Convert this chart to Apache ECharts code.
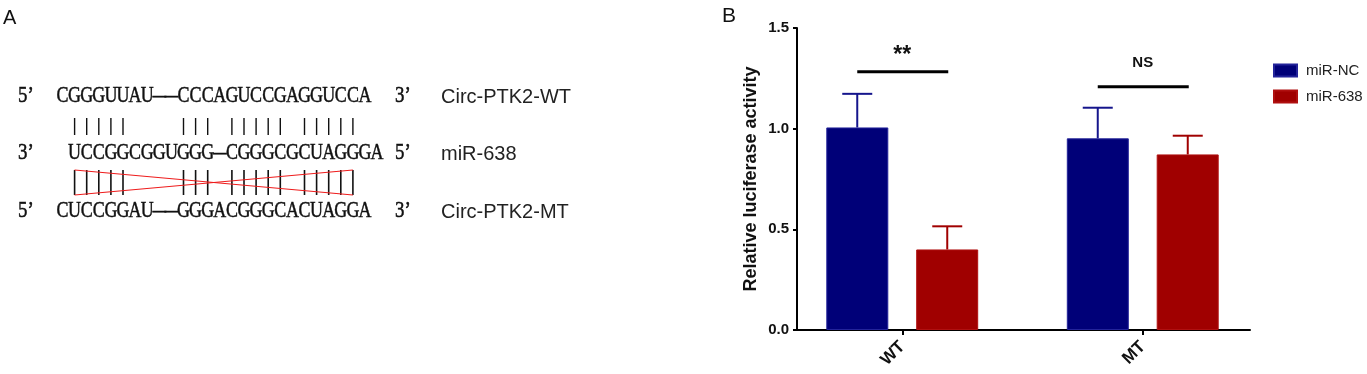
<!DOCTYPE html>
<html>
<head>
<meta charset="utf-8">
<script src="https://cdn.jsdelivr.net/npm/echarts@6/dist/echarts.min.js"></script>
<style>
html,body{margin:0;padding:0;background:#fff}
#main{width:1367px;height:374px}
</style>
</head>
<body>
<div id="main"></div>
<script>
// panel A - sequences
var seqWT = "CGGGUUAU--CCCAGUCCGAGGUCCA";
var seqMiR = "UCCGGCGGUGGG-CGGGCGCUAGGGA";
var seqMT = "CUCCGGAU--GGGACGGGCACUAGGA";
var rowNames = ["Circ-PTK2-WT", "miR-638", "Circ-PTK2-MT"];
var rowEnds = [["5’", "3’"], ["3’", "5’"], ["5’", "3’"]];
var pairIdx = [1, 2, 3, 4, 5, 10, 11, 12, 14, 15, 16, 17, 18, 20, 21, 22, 23, 24];

// panel B - luciferase
var groups = ["WT", "MT"];
var seriesNames = ["miR-NC", "miR-638"];
var ncMean = [1.006, 0.952];
var ncErr = [0.167, 0.152];
var mirMean = [0.400, 0.872];
var mirErr = [0.115, 0.093];
var sigLine = [1.283, 1.208];
var sigLabelAt = [1.361, 1.326];
var sigText = ["**", "NS"];

var sans = "Liberation Sans";
var serif = "Liberation Serif";
var blue = "#000078", red = "#a00000";

var chart = echarts.init(document.getElementById("main"));

// build panel A as graphic elements
var gfx = [];
function txt(x, y, s, font, align, sx, color, sw) {
    return {
        type: "text", x: x, y: y, scaleX: sx || 1, silent: true,
        style: {
            text: s, font: font, fill: color || "#111",
            stroke: sw ? (color || "#111") : null, lineWidth: sw || 0,
            align: align, textAlign: align,
            verticalAlign: "middle", textVerticalAlign: "middle"
        }
    };
}
function cx(i) { return 62.5 + 12.1 * i; }
var seqs = [seqWT, seqMiR, seqMT];
var rowOff = [0, 1, 0];
var rowY = [95.5, 152.5, 210.5];
var seqFont = "23px '" + serif + "'";
seqs.forEach(function (s, r) {
    for (var i = 0; i < s.length; i++) {
        var d = s[i] === "-";
        gfx.push(txt(cx(i + rowOff[r]), rowY[r], d ? "–" : s[i], seqFont, "center", d ? 1.15 : 0.78, "#111", 0.5));
    }
    gfx.push(txt(18, rowY[r], rowEnds[r][0], seqFont, "left", 0.82, "#111", 0.5));
    gfx.push(txt(395, rowY[r], rowEnds[r][1], seqFont, "left", 0.82, "#111", 0.5));
    gfx.push(txt(441, rowY[r] + 1.5, rowNames[r], "20px '" + sans + "'", "left", 1, "#222"));
});
pairIdx.forEach(function (i) {
    gfx.push({type: "line", silent: true, shape: {x1: cx(i), y1: 118, x2: cx(i), y2: 135}, style: {stroke: "#111", lineWidth: 1.4}});
    gfx.push({type: "line", silent: true, shape: {x1: cx(i), y1: 170, x2: cx(i), y2: 195}, style: {stroke: "#111", lineWidth: 1.6}});
});
var xa = cx(pairIdx[0]), xb = cx(pairIdx[pairIdx.length - 1]);
gfx.push({type: "line", silent: true, z: 10, shape: {x1: xa, y1: 170, x2: xb, y2: 195}, style: {stroke: "#ee1c1c", lineWidth: 1.2}});
gfx.push({type: "line", silent: true, z: 10, shape: {x1: xa, y1: 195, x2: xb, y2: 170}, style: {stroke: "#ee1c1c", lineWidth: 1.2}});
gfx.push(txt(3, 18, "A", "20px '" + sans + "'", "left", 1, "#111"));
gfx.push(txt(722, 16, "B", "21px '" + sans + "'", "left", 1, "#111"));

function errBar(offset, color) {
    return function (params, api) {
        var base = api.coord([api.value(0), api.value(1)]);
        var top = api.coord([api.value(0), api.value(1) + api.value(2)]);
        var x = base[0] + offset;
        var st = {stroke: color, lineWidth: 2};
        return {type: "group", children: [
            {type: "line", shape: {x1: x, y1: base[1], x2: x, y2: top[1]}, style: st},
            {type: "line", shape: {x1: x - 15, y1: top[1], x2: x + 15, y2: top[1]}, style: st}
        ]};
    };
}

var option = {
    animation: false,
    graphic: gfx,
    legend: {
        data: seriesNames, orient: "vertical", left: 1268, top: 58,
        itemWidth: 23, itemHeight: 12, itemGap: 11, icon: "rect",
        textStyle: {fontFamily: sans, fontSize: 15, color: "#222", padding: [0, 0, 0, 4]}
    },
    grid: [
        {left: 797, right: 117, top: 28, bottom: 44},
        {left: 782, right: 104, top: 28, bottom: 44}
    ],
    xAxis: [
        {gridIndex: 0, type: "category", data: groups,
            axisLine: {lineStyle: {color: "#000", width: 2}},
            axisTick: {show: false}, axisLabel: {show: false}},
        {gridIndex: 1, type: "category", data: groups,
            axisLine: {show: false},
            axisTick: {show: true, alignWithLabel: true, length: 5, lineStyle: {color: "#000", width: 2}},
            axisLabel: {rotate: 45, margin: 14, fontFamily: sans, fontWeight: "bold", fontSize: 17, color: "#111"}}
    ],
    yAxis: [
        {gridIndex: 0, type: "value", min: 0, max: 1.5, interval: 0.5,
            name: "Relative luciferase activity", nameLocation: "middle", nameGap: 37,
            nameTextStyle: {fontFamily: sans, fontWeight: "bold", fontSize: 18, color: "#111"},
            axisLine: {show: true, lineStyle: {color: "#000", width: 2}},
            axisTick: {show: true, length: 4, lineStyle: {color: "#000", width: 2}},
            splitLine: {show: false},
            axisLabel: {margin: 8, fontFamily: sans, fontWeight: "bold", fontSize: 15, color: "#111",
                formatter: function (v) { return v.toFixed(1); }}},
        {gridIndex: 1, type: "value", min: 0, max: 1.5, show: false, splitLine: {show: false}}
    ],
    series: [
        {name: seriesNames[0], type: "bar", xAxisIndex: 1, yAxisIndex: 1, data: ncMean,
            barWidth: 62, barGap: "45%", itemStyle: {color: blue, borderColor: "#23239a", borderWidth: 1}},
        {name: seriesNames[1], type: "bar", xAxisIndex: 1, yAxisIndex: 1, data: mirMean,
            barWidth: 62, barGap: "45%", itemStyle: {color: red, borderColor: "#b01010", borderWidth: 1}},
        {type: "custom", xAxisIndex: 1, yAxisIndex: 1, z: 5,
            data: groups.map(function (g, i) { return [i, ncMean[i], ncErr[i]]; }),
            renderItem: errBar(-45, "#15158c")},
        {type: "custom", xAxisIndex: 1, yAxisIndex: 1, z: 5,
            data: groups.map(function (g, i) { return [i, mirMean[i], mirErr[i]]; }),
            renderItem: errBar(45, "#a00000")},
        {type: "custom", xAxisIndex: 1, yAxisIndex: 1, z: 5,
            data: groups.map(function (g, i) { return [i, sigLine[i], sigLabelAt[i]]; }),
            renderItem: function (params, api) {
                var p = api.coord([api.value(0), api.value(1)]);
                var t = api.coord([api.value(0), api.value(2)]);
                var i = params.dataIndex;
                return {type: "group", children: [
                    {type: "line", shape: {x1: p[0] - 45, y1: p[1], x2: p[0] + 46, y2: p[1]}, style: {stroke: "#000", lineWidth: 3}},
                    {type: "text", x: p[0], y: t[1], style: {
                        text: sigText[i],
                        font: "bold " + (i === 0 ? 23 : 15) + "px '" + sans + "'",
                        fill: "#111", align: "center", textAlign: "center",
                        verticalAlign: "middle", textVerticalAlign: "middle"}}
                ]};
            }}
    ]
};
chart.setOption(option);
</script>
</body>
</html>
